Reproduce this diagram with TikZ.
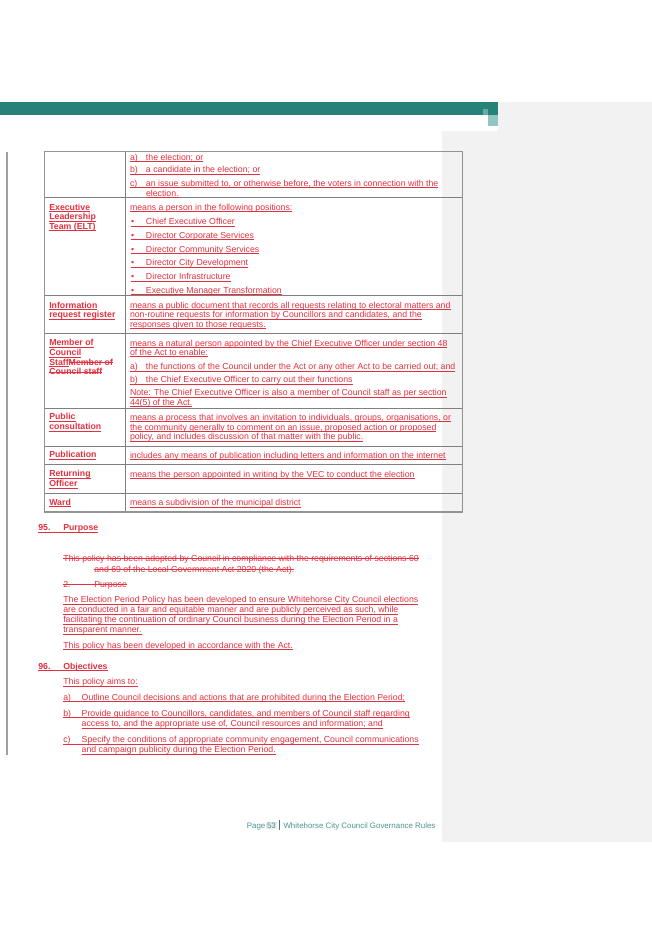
\documentclass[tikz,border=0pt]{standalone}
\usepackage{fontspec}
\setmainfont{Liberation Sans}
\definecolor{rev}{RGB}{226,48,64}
\definecolor{tealA}{RGB}{38,130,120}
\definecolor{tealB}{RGB}{145,198,193}
\definecolor{tealC}{RGB}{105,172,165}
\definecolor{foot}{RGB}{72,148,142}
\definecolor{side}{RGB}{242,242,242}
\definecolor{gridc}{RGB}{128,128,128}
\newcommand{\myul}[1]{\setbox0\hbox{#1}\rlap{\rule[-1.7pt]{\wd0}{0.6pt}}\box0}
\newcommand{\myst}[1]{\setbox0\hbox{#1}\rlap{\rule[2.7pt]{\wd0}{0.6pt}}\box0}
\newcommand{\lead}[2]{\makebox[#1][l]{#2}}
\tikzset{
  txt/.style={anchor=base west, inner sep=0pt, outer sep=0pt, text=rev, font=\fontsize{8.75}{10}\selectfont},
  lab/.style={txt, font=\fontsize{8.75}{10}\selectfont\bfseries},
  gridline/.style={draw=gridc, line width=0.9pt},
  outerline/.style={draw=gridc!85, line width=1.4pt},
  foottxt/.style={anchor=base west, inner sep=0pt, text=foot, font=\fontsize{7.9}{9}\selectfont},
}
\begin{document}
\begin{tikzpicture}[x=1pt,y=-1pt]
\useasboundingbox (0,0) rectangle (652,945);
% side panel
\fill[side] (498,102) rectangle (652,842);
\fill[side] (442,131) rectangle (498,842);
% teal header bar
\fill[tealA] (0,102) rectangle (498,115);
\fill[tealC] (482.7,109) rectangle (487.7,115);
\fill[tealB] (487.7,115) rectangle (498,126);
% margin change bar
\draw[gray!75, line width=1.3pt] (7,152) -- (7,755);
% table
\foreach \yy in {197.3,295.7,333.7,408,446,464.5,493.3}
  \draw[gridline] (44.3,\yy) -- (462.3,\yy);
\draw[gridline] (125.7,151.7) -- (125.7,512);
\draw[outerline] (44.3,151.7) rectangle (462.3,512);
% column 1
\node[lab] (c1a) at (49.3,210.2) {\myul{Executive}};
\node[lab] (c1b) at (49.3,219.8) {\myul{Leadership}};
\node[lab] (c1c) at (49.3,229.2) {\myul{Team (ELT)}};
\node[lab] (c1d) at (49.3,308.2) {\myul{Information}};
\node[lab] (c1e) at (49.3,317.5) {\myul{request register}};
\node[lab] (c1f) at (49.3,345.8) {\myul{Member of}};
\node[lab] (c1g) at (49.3,355.8) {\myul{Council}};
\node[lab] (c1h) at (49.3,365.2) {\myul{Staff}\myst{Member of}};
\node[lab] (c1i) at (49.3,374.8) {\myst{Council staff}};
\node[lab] (c1j) at (49.3,419.8) {\myul{Public}};
\node[lab] (c1k) at (49.3,429.5) {\myul{consultation}};
\node[lab] (c1l) at (49.3,457.8) {\myul{Publication}};
\node[lab] (c1m) at (49.3,476.8) {\myul{Returning}};
\node[lab] (c1n) at (49.3,486.5) {\myul{Officer}};
\node[lab] (c1o) at (49.3,505.2) {\myul{Ward}};
% column 2
\node[txt] (r1a) at (130,160.2) {\myul{\lead{16pt}{a)}the election; or}};
\node[txt] (r1b) at (130,172.8) {\myul{\lead{16pt}{b)}a candidate in the election; or}};
\node[txt] (r1c) at (130,186.2) {\myul{\lead{16pt}{c)}an issue submitted to, or otherwise before, the voters in connection with the}};
\node[txt] (r1d) at (146,196.2) {\myul{election.}};
\node[txt] (r2a) at (130,210.2) {\myul{means a person in the following positions:}};
\node[txt] (r2b) at (131,224.8) {\myul{\lead{15pt}{•}Chief Executive Officer}};
\node[txt] (r2c) at (131,238.2) {\myul{\lead{15pt}{•}Director Corporate Services}};
\node[txt] (r2d) at (131,252.2) {\myul{\lead{15pt}{•}Director Community Services}};
\node[txt] (r2e) at (131,265.8) {\myul{\lead{15pt}{•}Director City Development}};
\node[txt] (r2f) at (131,279.5) {\myul{\lead{15pt}{•}Director Infrastructure}};
\node[txt] (r2g) at (131,293.3) {\myul{\lead{15pt}{•}Executive Manager Transformation}};
\node[txt] (r3a) at (130,308) {\myul{means a public document that records all requests relating to electoral matters and}};
\node[txt] (r3b) at (130,317.5) {\myul{non-routine requests for information by Councillors and candidates, and the}};
\node[txt] (r3c) at (130,327) {\myul{responses given to those requests.}};
\node[txt] (r4a) at (130,346.2) {\myul{means a natural person appointed by the Chief Executive Officer under section 48}};
\node[txt] (r4b) at (130,355.2) {\myul{of the Act to enable:}};
\node[txt] (r4c) at (130,369.8) {\myul{\lead{16pt}{a)}the functions of the Council under the Act or any other Act to be carried out; and}};
\node[txt] (r4d) at (130,382.8) {\myul{\lead{16pt}{b)}the Chief Executive Officer to carry out their functions}};
\node[txt] (r4e) at (130,395.5) {\myul{Note: The Chief Executive Officer is also a member of Council staff as per section}};
\node[txt] (r4f) at (130,405.2) {\myul{44(5) of the Act.}};
\node[txt] (r5a) at (130,420.2) {\myul{means a process that involves an invitation to individuals, groups, organisations, or}};
\node[txt] (r5b) at (130,430.2) {\myul{the community generally to comment on an issue, proposed action or proposed}};
\node[txt] (r5c) at (130,439.5) {\myul{policy, and includes discussion of that matter with the public.}};
\node[txt] (r6a) at (130,458.2) {\myul{includes any means of publication including letters and information on the internet}};
\node[txt] (r7a) at (130,477.2) {\myul{means the person appointed in writing by the VEC to conduct the election}};
\node[txt] (r8a) at (130,505.5) {\myul{means a subdivision of the municipal district}};
% body
\node[lab] (h95) at (38.3,530.8) {\myul{\lead{25pt}{95.}Purpose}};
\node[txt] (s1) at (63.3,561.5) {\myst{This policy has been adopted by Council in compliance with the requirements of sections 60}};
\node[txt] (s2) at (94.3,572.2) {\myst{and 69 of the Local Government Act 2020 (the Act).}};
\node[txt] (s3) at (63.3,587.2) {\myst{\lead{31pt}{2.}Purpose}};
\node[txt] (p1) at (63.3,602.8) {\myul{The Election Period Policy has been developed to ensure Whitehorse City Council elections}};
\node[txt] (p2) at (63.3,612.8) {\myul{are conducted in a fair and equitable manner and are publicly perceived as such, while}};
\node[txt] (p3) at (63.3,622.8) {\myul{facilitating the continuation of ordinary Council business during the Election Period in a}};
\node[txt] (p4) at (63.3,632.8) {\myul{transparent manner.}};
\node[txt] (p5) at (63.3,648.2) {\myul{This policy has been developed in accordance with the Act.}};
\node[lab] (h96) at (38.3,669.2) {\myul{\lead{25pt}{96.}Objectives}};
\node[txt] (o0) at (63.3,684.8) {\myul{This policy aims to:}};
\node[txt] (oa) at (63.3,700.2) {\myul{\lead{18.4pt}{a)}Outline Council decisions and actions that are prohibited during the Election Period;}};
\node[txt] (ob) at (63.3,716.2) {\myul{\lead{18.4pt}{b)}Provide guidance to Councillors, candidates, and members of Council staff regarding}};
\node[txt] (ob2) at (81.7,726.5) {\myul{access to, and the appropriate use of, Council resources and information; and}};
\node[txt] (oc) at (63.3,742.8) {\myul{\lead{18.4pt}{c)}Specify the conditions of appropriate community engagement, Council communications}};
\node[txt] (oc2) at (81.7,752.8) {\myul{and campaign publicity during the Election Period.}};
% footer
\node[foottxt] (fpage) at (246.7,828) {Page};
\node[foottxt, fill=gray!14, inner sep=0.8pt] (fnum) at (266,828) {53};
\draw[foot!85!black, line width=0.9pt] (279.3,819.5) -- (279.3,830);
\node[foottxt] (ftitle) at (283.3,828) {Whitehorse City Council Governance Rules};
\end{tikzpicture}
\end{document}
